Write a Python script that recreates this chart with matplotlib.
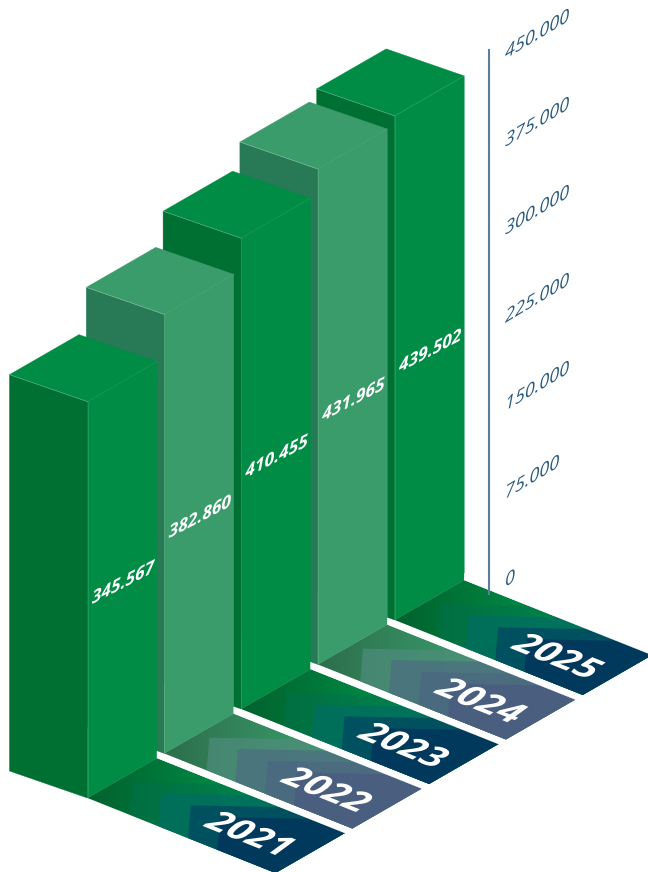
import matplotlib
matplotlib.use('Agg')
import matplotlib.pyplot as plt
import matplotlib.colors as mcolors
from matplotlib.patches import Polygon
from matplotlib.patheffects import AbstractPathEffect
from matplotlib.transforms import Affine2D
import numpy as np

plt.rcParams['font.family'] = ['Open Sans', 'DejaVu Sans']

years = ['2021', '2022', '2023', '2024', '2025']
values = [345567, 382860, 410455, 431965, 439502]
tick_values = [0, 75000, 150000, 225000, 300000, 375000, 450000]

# colours for the normal bars and the lighter ones, every second year
dark = dict(right='#008c44', left='#006f32', top='#008c44', floor0='#00622d', floor1='#008f47',
            bands=['#006f50', '#006e60', '#004e60', '#00395c'], alphas=[0.45, 0.8, 0.9, 1.0])
light = dict(right='#3a9c6a', left='#277a55', top='#3a9c6a', floor0='#2c6e4c', floor1='#3a9c6a',
             bands=['#4f8c7c', '#4c7080', '#4b6a80', '#4a5f80'], alphas=[0.7, 0.8, 0.9, 1.0])

# projection, everything in picture pixels
front_x, front_y = 87.5, 798
step_x, step_y = 76.8, -44.5
right_dx, right_dy = 69.5, -40
left_dx, left_dy = -78, -27
floor_dx, floor_dy = 188, 75
px_per_value = 1.147 / 1000
axis_x, axis_y0 = 489, 594
axis_scale = 544 / 450000
tick_x, tick_y0 = 505, 587
tick_scale = 528 / 450000

fig = plt.figure(figsize=(6.48, 8.72), dpi=100)
ax = fig.add_axes([0, 0, 1, 1])
ax.set_xlim(0, 648)
ax.set_ylim(872, 0)
z = 1


class Shear(AbstractPathEffect):
    # lays a text on a bar face or floor: columns of target are where the
    # text's x and y axes go on screen, anchor stays put
    def __init__(self, anchor, target, angle):
        super().__init__()
        self.anchor = anchor
        a = np.radians(angle)
        undo = np.array([[np.cos(a), np.sin(a)], [-np.sin(a), np.cos(a)]])
        m = np.array(target) @ undo
        self.m = [[m[0, 0], m[0, 1], 0], [m[1, 0], m[1, 1], 0], [0, 0, 1]]

    def draw_path(self, renderer, gc, tpath, affine, rgbFace=None):
        cx, cy = ax.transData.transform(self.anchor)
        new = affine + Affine2D().translate(-cx, -cy) + Affine2D(np.array(self.m)) + Affine2D().translate(cx, cy)
        renderer.draw_path(gc, tpath, new, rgbFace)


def sheared_text(x, y, s, target, **kw):
    angle = np.degrees(np.arctan2(target[1][0], target[0][0]))
    t = ax.text(x, y, s, rotation=angle, rotation_mode='anchor', **kw)
    t.set_path_effects([Shear((x, y), target, angle)])
    return t


def face(points, color):
    global z
    ax.add_patch(Polygon(points, closed=True, facecolor=color, edgecolor=color, linewidth=0.3, zorder=z))
    z += 1


def edge(p, q, alpha=0.25):
    global z
    ax.plot([p[0], q[0]], [p[1], q[1]], color='white', lw=0.5, alpha=alpha, zorder=z)
    z += 1


def draw_floor(fx, fy, pal):
    global z
    p0 = (fx, fy)
    p1 = (fx + right_dx, fy + right_dy)
    p2 = (p1[0] + floor_dx, p1[1] + floor_dy)
    p3 = (fx + floor_dx, fy + floor_dy)
    clip = Polygon([p0, p1, p2, p3], closed=True, transform=ax.transData, facecolor='none', edgecolor='none')
    ax.add_patch(clip)

    # base gradient runs from the bar's foot towards the tip
    c0 = np.array(mcolors.to_rgb(pal['floor0']))
    c1 = np.array(mcolors.to_rgb(pal['floor1']))
    t = np.clip(np.linspace(0, 1, 128) / 0.6, 0, 1)[None, :, None]
    img = c0 + (c1 - c0) * t
    x0, x1 = fx, p2[0]
    y0, y1 = min(p1[1], p0[1]), max(p3[1], p2[1])
    im = ax.imshow(img, extent=[x0, x1, y1, y0], aspect='auto', zorder=z, interpolation='bilinear')
    im.set_clip_path(clip)
    z += 1

    # chevron bands, each notch points back at the bar
    def uv(u, v):
        return (fx + u * floor_dx + v * right_dx, fy + u * floor_dy + v * right_dy)

    for start, color, alpha in zip([0.055, 0.207, 0.365, 0.52], pal['bands'], pal['alphas']):
        pts = [uv(start + 0.17, 0), uv(start, 0.5), uv(start + 0.29, 1), uv(1, 1), uv(1, 0)]
        ax.add_patch(Polygon(pts, closed=True, facecolor=color, edgecolor='none', alpha=alpha, zorder=z))
        z += 1


def draw_bar(fx, fy, value, pal):
    h = value * px_per_value
    top = fy - h
    lx, ly = fx + left_dx, top + left_dy
    rx, ry = fx + right_dx, top + right_dy
    face([(lx, ly), (fx, top), (fx, fy), (lx, fy + left_dy)], pal['left'])
    face([(fx, top), (rx, ry), (rx, fy + right_dy), (fx, fy)], pal['right'])
    face([(lx, ly), (lx + right_dx, ly + right_dy), (rx, ry), (fx, top)], pal['top'])
    edge((lx, ly), (fx, top), alpha=0.3)
    edge((fx, top), (rx, ry), alpha=0.12)
    edge((fx, top), (fx, fy), alpha=0.15)


face_target = [[1, 0], [0.52, 1]]
tick_target = [[1, 0], [0.6, 1]]
floor_target = [[1, 0.6], [-0.4, 0.68]]

# back to front so nearer bars cover the ones behind
for i in range(len(years) - 1, -1, -1):
    fx = front_x + i * step_x
    fy = front_y + i * step_y
    pal = light if i % 2 == 1 else dark

    draw_bar(fx, fy, values[i], pal)
    draw_floor(fx, fy, pal)

    # white gap between this floor and the one behind it
    rx, ry = fx + right_dx, fy + right_dy
    face([(rx, ry - 6.5), (rx + floor_dx + 6, ry + floor_dy - 4), (rx + floor_dx, ry + floor_dy), (rx, ry)], 'white')

    label = f'{values[i] / 1000:.3f}'
    sheared_text(fx + right_dx / 2 + 1, fy - values[i] * px_per_value / 2 + right_dy / 2 + 3, label, face_target,
                 color='white', fontsize=12.5, fontweight='bold', style='italic', ha='center', va='center',
                 zorder=500)
    sheared_text(fx + 161, fy + 38, years[i], floor_target, color='white', fontsize=26, fontweight='bold',
                 style='italic', ha='center', va='center', zorder=500)

# value axis on the right
ax.plot([axis_x, axis_x], [axis_y0, axis_y0 - tick_values[-1] * axis_scale], color='#5b7f9b', lw=1.5, zorder=400)
for tv in tick_values:
    tick_label = '0' if tv == 0 else f'{tv / 1000:.3f}'
    sheared_text(tick_x, tick_y0 - tv * tick_scale, tick_label, tick_target, color='#2a5a7e', fontsize=13,
                 style='italic', ha='left', va='baseline', zorder=400)

ax.set_xlim(0, 648)
ax.set_ylim(872, 0)
ax.axis('off')
fig.savefig('out.png', dpi=100, facecolor='white')
